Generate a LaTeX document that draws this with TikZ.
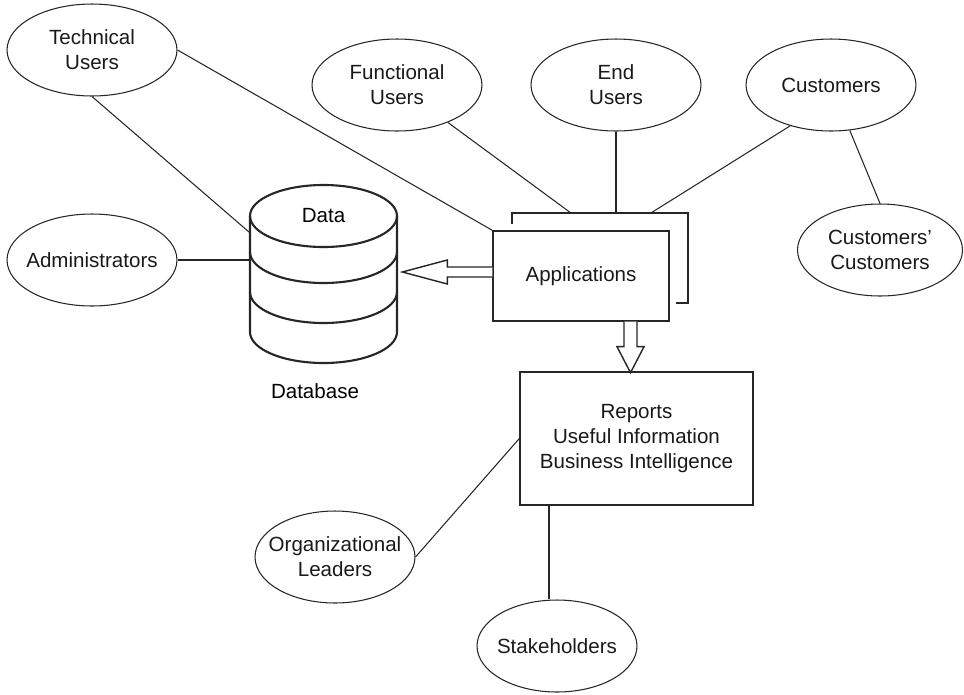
\documentclass[tikz,border=0pt]{standalone}
\usepackage{fontspec}
\setmainfont{Liberation Sans}
\usetikzlibrary{shapes.geometric, calc}

\begin{document}
\begin{tikzpicture}[x=0.02cm, y=-0.02cm,
  font=\fontsize{11.7}{14.2}\selectfont,
  user/.style={ellipse, draw=black!85, line width=0.6pt,
    minimum width=3.4cm, minimum height=1.84cm,
    inner xsep=-7pt, inner ysep=0pt, align=center, text=black!90},
  box/.style={rectangle, draw=black!85, line width=0.8pt,
    align=center, text=black!90},
  link/.style={draw=black!85, line width=0.6pt},
  hollow/.style={draw=black!85, line width=0.8pt, fill=white}]
  \useasboundingbox (0,0) rectangle (964,694);

  % users round the applications
  \node (tech) [user] at (92,50) {Technical\\Users};
  \node (admin) [user] at (92,260) {Administrators};
  \node (func) [user] at (397,85) {Functional\\Users};
  \node (endu) [user] at (616,85) {End\\Users};
  \node (cust) [user] at (831,85) {Customers};
  \node (ccust) [user, minimum width=3.3cm] at (880,250) {Customers’\\Customers};
  \node (org) [user, minimum width=3.2cm] at (335,557) {Organizational\\Leaders};
  \node (stake) [user, minimum width=3.2cm] at (557,646) {Stakeholders};

  % database
  \draw[line width=1.2pt, draw=black!85] (250,216) -- (250,332)
    arc[start angle=180, end angle=0, x radius=73.5, y radius=31] -- (397,216);
  \draw[line width=1.2pt, draw=black!85] (323.5,216) ellipse[x radius=73.5, y radius=31];
  \foreach \y in {252,292}
    \draw[line width=1.2pt, draw=black!85] (250,\y)
      arc[start angle=180, end angle=0, x radius=73.5, y radius=31];
  \node (data) at (323.5,216) {Data};
  \node (dblabel) at (315,391) {Database};
  \coordinate (dbtech) at (249,232);
  \coordinate (dbadmin) at (249,260);

  % applications and reports
  \node (appsback) [box, minimum width=3.52cm, minimum height=1.8cm] at (600,258) {};
  \node (apps) [box, fill=white, preaction={draw=white, line width=8pt},
    minimum width=3.52cm, minimum height=1.8cm] at (581,276) {Applications};
  \node (reports) [box, minimum width=4.66cm, minimum height=2.66cm]
    at (636.5,438.5) {Reports\\Useful Information\\Business Intelligence};

  % hollow arrows
  \draw[hollow] ($(apps.west)+(0,-9)$) -- ++(-45,0) -- ++(0,-7) -- ++(-45,12)
    -- ++(45,12) -- ++(0,-7) -- ++(45,0);
  \draw[hollow] ($(apps.south)+(43,0)$) -- ++(0,25) -- ++(-7,0) -- ++(13.5,26)
    -- ++(13.5,-26) -- ++(-7,0) -- ++(0,-25);

  % connectors
  \draw[link] (tech.east) -- (apps.north west);
  \draw[link] (tech.south) -- (dbtech);
  \draw[link] (admin) -- (dbadmin);
  \draw[link] (func) -- ($(appsback.north)+(-30,0)$);
  \draw[link] (endu) -- (endu |- appsback.north);
  \draw[link] (cust.225) -- ($(appsback.north)+(52,0)$);
  \draw[link] (cust) -- (ccust.north);
  \draw[link] (org.east) -- (reports.west);
  \coordinate (stk) at ($(stake.north)+(-8,0)$);
  \draw[link] (stk) -- (stk |- reports.south);
\end{tikzpicture}
\end{document}
